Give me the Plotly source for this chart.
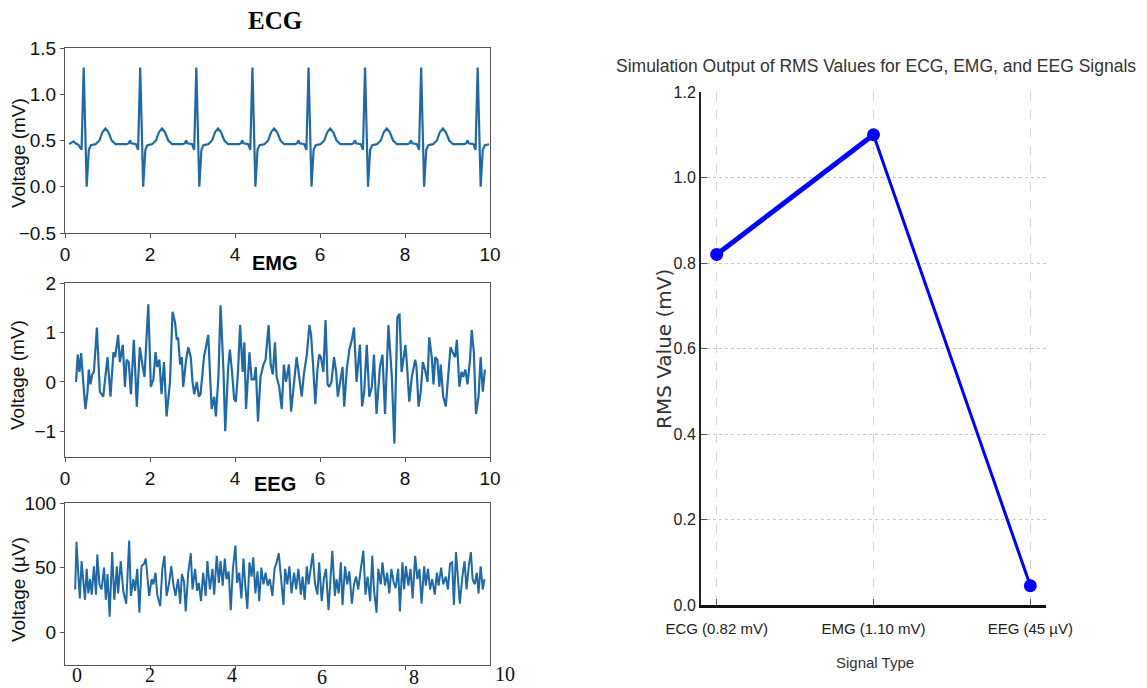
import plotly.graph_objects as go

W, H = 1147, 688

# ---------------- data ----------------
ecg_t = [0.10, 0.14, 0.20, 0.25, 0.32, 0.39, 0.44, 0.51, 0.56, 0.61, 0.72, 0.81, 0.88, 0.95, 1.02, 1.10, 1.19,
         1.45, 1.50, 1.53, 1.56, 1.67, 1.72, 1.77, 1.84, 1.89, 1.94, 2.05, 2.14, 2.21, 2.28, 2.35, 2.43, 2.52,
         2.77, 2.82, 2.85, 2.88, 2.99, 3.04, 3.09, 3.16, 3.21, 3.26, 3.37, 3.46, 3.53, 3.60, 3.67, 3.75, 3.84,
         4.09, 4.14, 4.17, 4.20, 4.31, 4.36, 4.41, 4.48, 4.53, 4.58, 4.69, 4.78, 4.85, 4.92, 4.99, 5.07, 5.16,
         5.41, 5.46, 5.49, 5.52, 5.63, 5.68, 5.73, 5.80, 5.85, 5.90, 6.01, 6.10, 6.17, 6.24, 6.31, 6.39, 6.48,
         6.74, 6.79, 6.82, 6.85, 6.96, 7.01, 7.06, 7.13, 7.18, 7.23, 7.34, 7.43, 7.50, 7.57, 7.64, 7.72, 7.81,
         8.06, 8.11, 8.14, 8.17, 8.28, 8.33, 8.38, 8.45, 8.50, 8.55, 8.66, 8.75, 8.82, 8.89, 8.96, 9.04, 9.13,
         9.39, 9.44, 9.47, 9.50, 9.61, 9.66, 9.71, 9.78, 9.83, 9.88, 9.98]
ecg_v = [0.46, 0.47, 0.49, 0.47, 0.45, 0.40, 1.29, 0.00, 0.40, 0.45, 0.46, 0.50, 0.59, 0.63, 0.59, 0.50, 0.46,
         0.46, 0.47, 0.50, 0.47, 0.46, 0.40, 1.29, 0.00, 0.40, 0.45, 0.46, 0.50, 0.59, 0.63, 0.59, 0.50, 0.46,
         0.46, 0.47, 0.50, 0.47, 0.46, 0.40, 1.29, 0.00, 0.40, 0.45, 0.46, 0.50, 0.59, 0.63, 0.59, 0.50, 0.46,
         0.46, 0.47, 0.50, 0.47, 0.46, 0.40, 1.29, 0.00, 0.40, 0.45, 0.46, 0.50, 0.59, 0.63, 0.59, 0.50, 0.46,
         0.46, 0.47, 0.50, 0.47, 0.46, 0.40, 1.29, 0.00, 0.40, 0.45, 0.46, 0.50, 0.59, 0.63, 0.59, 0.50, 0.46,
         0.46, 0.47, 0.50, 0.47, 0.46, 0.40, 1.29, 0.00, 0.40, 0.45, 0.46, 0.50, 0.59, 0.63, 0.59, 0.50, 0.46,
         0.46, 0.47, 0.50, 0.47, 0.46, 0.40, 1.29, 0.00, 0.40, 0.45, 0.46, 0.50, 0.59, 0.63, 0.59, 0.50, 0.46,
         0.46, 0.47, 0.50, 0.47, 0.46, 0.40, 1.29, 0.00, 0.40, 0.45, 0.46]

emg_t = [0.26, 0.30, 0.34, 0.38, 0.43, 0.48, 0.53, 0.56, 0.60, 0.64,
         0.68, 0.75, 0.82, 0.90, 1.00, 1.07, 1.14, 1.18, 1.25, 1.29,
         1.36, 1.41, 1.45, 1.50, 1.55, 1.62, 1.69, 1.76, 1.83, 1.87,
         1.96, 2.02, 2.08, 2.13, 2.17, 2.22, 2.27, 2.33, 2.39, 2.47,
         2.53, 2.59, 2.63, 2.66, 2.71, 2.75, 2.78, 2.85, 2.90, 2.96,
         3.00, 3.04, 3.10, 3.15, 3.19, 3.27, 3.37, 3.45, 3.51, 3.55,
         3.61, 3.66, 3.73, 3.77, 3.84, 3.88, 3.93, 3.98, 4.02, 4.07,
         4.12, 4.18, 4.22, 4.26, 4.34, 4.39, 4.45, 4.49, 4.54, 4.60,
         4.67, 4.72, 4.79, 4.84, 4.89, 4.94, 4.98, 5.04, 5.10, 5.15,
         5.20, 5.27, 5.32, 5.39, 5.45, 5.51, 5.57, 5.62, 5.69, 5.75,
         5.79, 5.84, 5.89, 5.94, 5.98, 6.02, 6.08, 6.13, 6.18, 6.22,
         6.27, 6.33, 6.38, 6.42, 6.47, 6.53, 6.57, 6.63, 6.69, 6.75,
         6.80, 6.86, 6.94, 6.99, 7.04, 7.10, 7.16, 7.22, 7.27, 7.33,
         7.41, 7.47, 7.53, 7.61, 7.69, 7.75, 7.82, 7.87, 7.92, 7.96,
         8.01, 8.05, 8.10, 8.16, 8.24, 8.27, 8.32, 8.37, 8.42, 8.47,
         8.53, 8.57, 8.63, 8.67, 8.71, 8.76, 8.81, 8.84, 8.90, 8.96,
         9.02, 9.07, 9.12, 9.18, 9.22, 9.28, 9.33, 9.37, 9.42, 9.47,
         9.53, 9.57, 9.62, 9.67, 9.73, 9.78, 9.83, 9.88]
emg_v = [0.0, 0.55, 0.2, 0.58, 0.0, -0.55, -0.2, 0.25, -0.05, 0.15,
         0.2, 1.1, -0.2, -0.3, 0.5, -0.3, 0.6, 0.5, 0.95, 0.4,
         0.75, -0.1, 0.45, 0.4, -0.25, 0.85, -0.5, 0.7, 0.3, 0.1,
         1.57, -0.1, 0.05, 0.6, 0.3, 0.45, -0.25, 0.4, -0.7, 0.0,
         1.42, 1.2, 0.85, 0.9, 0.35, 0.5, -0.1, 0.45, 0.7, 0.5,
         0.0, -0.25, 0.0, -0.3, -0.25, 0.5, 0.95, -0.55, -0.3, -0.7,
         0.1, 1.55, 0.2, -1.0, 0.3, 0.65, 0.2, -0.35, -0.4, 0.2,
         1.15, 0.2, 0.8, -0.55, 0.6, 0.05, 0.05, 0.3, -0.8, 0.1,
         0.35, 0.45, 1.15, 0.35, 0.15, 0.8, 0.1, -0.1, -0.55, 0.35,
         0.0, 0.35, -0.6, 0.0, 0.5, 0.1, -0.3, 0.15, 0.55, 1.15,
         0.95, 0.3, -0.45, 0.25, 0.55, 0.5, 0.2, 1.25, -0.05, -0.1,
         0.0, 0.5, 0.2, -0.3, 0.0, 0.3, -0.5, 0.25, 0.65, 0.85,
         1.1, 0.0, 0.75, -0.5, -0.2, 0.75, -0.3, -0.1, 0.55, -0.65,
         0.3, 0.55, -0.65, 1.15, 0.1, -1.25, 1.3, 1.38, 0.2, 0.5,
         0.75, 0.3, -0.4, 0.1, 0.45, 0.3, -0.5, -0.2, 0.4, 0.25,
         0.0, 0.9, 0.5, -0.05, 0.5, 0.45, -0.1, 0.35, -0.3, -0.5,
         0.25, 0.7, 0.6, 0.5, 0.85, -0.1, 0.2, 0.1, 0.25, -0.05,
         0.45, 1.05, 0.6, -0.65, -0.3, 0.5, -0.2, 0.25]

eeg_t = [0.24, 0.27, 0.32, 0.35, 0.39, 0.43, 0.47, 0.51, 0.55, 0.59,
         0.63, 0.68, 0.73, 0.76, 0.81, 0.86, 0.92, 0.96, 1.00, 1.05,
         1.11, 1.16, 1.22, 1.25, 1.31, 1.37, 1.44, 1.51, 1.55, 1.61,
         1.65, 1.70, 1.75, 1.80, 1.86, 1.90, 1.94, 1.98, 2.04, 2.08,
         2.13, 2.17, 2.24, 2.29, 2.34, 2.39, 2.45, 2.50, 2.55, 2.60,
         2.66, 2.71, 2.75, 2.80, 2.84, 2.90, 2.96, 3.00, 3.06, 3.11,
         3.15, 3.20, 3.25, 3.31, 3.35, 3.41, 3.47, 3.51, 3.57, 3.62,
         3.66, 3.71, 3.76, 3.80, 3.85, 3.90, 3.95, 4.01, 4.05, 4.10,
         4.15, 4.20, 4.24, 4.29, 4.34, 4.39, 4.43, 4.48, 4.53, 4.57,
         4.62, 4.67, 4.72, 4.77, 4.82, 4.88, 4.93, 4.98, 5.03, 5.08,
         5.14, 5.18, 5.23, 5.28, 5.33, 5.39, 5.44, 5.49, 5.55, 5.59,
         5.64, 5.69, 5.73, 5.78, 5.83, 5.88, 5.94, 5.98, 6.04, 6.09,
         6.14, 6.20, 6.25, 6.29, 6.35, 6.39, 6.44, 6.49, 6.53, 6.59,
         6.64, 6.69, 6.75, 6.80, 6.85, 6.90, 6.96, 7.02, 7.07, 7.12,
         7.18, 7.23, 7.27, 7.33, 7.37, 7.43, 7.47, 7.53, 7.58, 7.63,
         7.68, 7.73, 7.78, 7.84, 7.88, 7.94, 7.98, 8.02, 8.08, 8.13,
         8.18, 8.24, 8.29, 8.34, 8.39, 8.45, 8.49, 8.54, 8.59, 8.64,
         8.70, 8.75, 8.79, 8.85, 8.90, 8.96, 9.01, 9.06, 9.11, 9.15,
         9.20, 9.25, 9.29, 9.35, 9.40, 9.45, 9.50, 9.55, 9.59, 9.64,
         9.69, 9.73, 9.78, 9.83, 9.87]
eeg_v = [33, 70, 41, 26, 55, 38, 25, 49, 30, 41,
         29, 51, 29, 60, 37, 33, 50, 25, 45, 12,
         62, 25, 51, 30, 55, 32, 22, 71, 28, 41,
         32, 49, 15, 51, 53, 57, 43, 28, 41, 37,
         46, 29, 20, 49, 59, 28, 38, 51, 37, 28,
         41, 22, 45, 39, 16, 46, 61, 33, 49, 32,
         38, 24, 46, 28, 55, 33, 49, 29, 59, 38,
         55, 36, 57, 41, 47, 17, 49, 67, 38, 46,
         26, 57, 37, 18, 54, 43, 58, 30, 47, 24,
         50, 37, 46, 36, 41, 28, 49, 54, 61, 43,
         21, 49, 37, 51, 30, 46, 33, 49, 29, 43,
         25, 51, 37, 49, 61, 38, 29, 54, 24, 41,
         49, 17, 46, 63, 28, 41, 30, 54, 21, 51,
         37, 47, 22, 37, 43, 33, 49, 63, 29, 43,
         24, 59, 33, 15, 49, 37, 54, 36, 46, 30,
         49, 39, 34, 49, 16, 54, 33, 51, 36, 49,
         26, 59, 41, 49, 22, 51, 36, 49, 33, 41,
         29, 46, 36, 50, 37, 43, 33, 53, 54, 21,
         62, 41, 22, 43, 55, 33, 51, 62, 41, 37,
         46, 30, 51, 33, 41]

signal_labels = ["ECG (0.82 mV)", "EMG (1.10 mV)", "EEG (45 µV)"]
rms_values = [0.82, 1.10, 0.045]

left_x_ticks = [0, 2, 4, 6, 8, 10]
eeg_tick_labels = ["0", "2", "4", "6", "8", "10"]

# ---------------- helpers (layout only) ----------------
OFF = 8  # the page body adds an 8px margin around the figure

def px(x):
    return (x - OFF) / W

def py(y):
    return 1 - (y - OFF) / H

SIG_COLOR = "#1f69a6"
SANS = "Liberation Sans, Arial, sans-serif"
SERIF = "Liberation Serif, Times New Roman, serif"
RSANS = "Liberation Sans, Arial, sans-serif"

fig = go.Figure()
fig.add_trace(go.Scatter(x=ecg_t, y=ecg_v, mode="lines", line=dict(color=SIG_COLOR, width=2.2),
                         xaxis="x", yaxis="y", showlegend=False))
fig.add_trace(go.Scatter(x=emg_t, y=emg_v, mode="lines", line=dict(color=SIG_COLOR, width=2.2),
                         xaxis="x2", yaxis="y2", showlegend=False))
fig.add_trace(go.Scatter(x=eeg_t, y=eeg_v, mode="lines", line=dict(color=SIG_COLOR, width=2),
                         xaxis="x3", yaxis="y3", showlegend=False))
# RMS line: first segment drawn thicker than the second, as in the reference
fig.add_trace(go.Scatter(x=signal_labels[0:2], y=rms_values[0:2], mode="lines",
                         line=dict(color="#0000ff", width=5), xaxis="x4", yaxis="y4", showlegend=False))
fig.add_trace(go.Scatter(x=signal_labels[1:3], y=rms_values[1:3], mode="lines",
                         line=dict(color="#0000ff", width=3), xaxis="x4", yaxis="y4", showlegend=False))
fig.add_trace(go.Scatter(x=signal_labels, y=rms_values, mode="markers",
                         marker=dict(color="#0000ff", size=13), xaxis="x4", yaxis="y4", showlegend=False))

left_xdom = [px(65), px(490)]
box = dict(showline=True, linecolor="#555", linewidth=1, mirror=True, showgrid=False, zeroline=False,
           ticks="outside", ticklen=4, tickcolor="#555", automargin=False,
           tickfont=dict(family=SANS, size=19, color="#111"))
box_nofont = {k: v for k, v in box.items() if k != "tickfont"}

fig.update_layout(
    width=W, height=H, margin=dict(l=0, r=0, t=0, b=0, pad=0, autoexpand=False),
    paper_bgcolor="white", plot_bgcolor="white", showlegend=False,
    xaxis=dict(domain=left_xdom, anchor="y", range=[0, 10], tickvals=left_x_ticks, **box),
    yaxis=dict(domain=[py(233), py(48)], anchor="x", range=[-0.5, 1.5], tickvals=[-0.5, 0, 0.5, 1.0, 1.5],
               tickformat=".1f", **box),
    xaxis2=dict(domain=left_xdom, anchor="y2", range=[0, 10], tickvals=left_x_ticks, **box),
    yaxis2=dict(domain=[py(457), py(283)], anchor="x2", range=[-1.52, 2], tickvals=[-1, 0, 1, 2], **box),
    xaxis3=dict(domain=left_xdom, anchor="y3", range=[0, 10], tickvals=[2, 4, 8], showticklabels=False,
                **box_nofont),
    yaxis3=dict(domain=[py(665), py(503)], anchor="x3", range=[-25.5, 100], tickvals=[0, 50, 100], **box),
    xaxis4=dict(domain=[px(701), px(1046)], anchor="y4", type="category", range=[-0.1, 2.1],
                showline=True, linecolor="#111", linewidth=3, mirror=False, automargin=False,
                showgrid=True, gridcolor="#d4d4d4", griddash="dash", gridwidth=1,
                ticks="inside", ticklen=6, tickcolor="#555", zeroline=False, ticklabelstandoff=8,
                tickfont=dict(family=RSANS, size=15, color="#222")),
    yaxis4=dict(domain=[py(605), py(92)], anchor="x4", range=[0, 1.2], tickvals=[0, 0.2, 0.4, 0.6, 0.8, 1.0, 1.2],
                tickformat=".1f", showline=True, linecolor="#222", linewidth=2, automargin=False,
                showgrid=True, gridcolor="#c8c8c8", griddash="dot", gridwidth=1,
                ticks="inside", ticklen=6, tickcolor="#555", zeroline=False,
                tickfont=dict(family=RSANS, size=16, color="#222")),
)

ann = []
ann.append(dict(text="<b>ECG</b>", x=px(275), y=py(20), font=dict(family=SERIF, size=25, color="#000")))
ann.append(dict(text="<b>EMG</b>", x=px(275), y=py(263), font=dict(family=SANS, size=20, color="#000")))
ann.append(dict(text="<b>EEG</b>", x=px(275), y=py(484), font=dict(family=SANS, size=20, color="#000")))
for txt, yc in [("Voltage (mV)", 153), ("Voltage (mV)", 375), ("Voltage (µV)", 590)]:
    ann.append(dict(text=txt, x=px(18), y=py(yc), textangle=-90, font=dict(family=SANS, size=19, color="#111")))
for txt, xc, yc in zip(eeg_tick_labels, [77, 150, 232, 322, 414, 505], [675, 675, 675, 677, 677, 674]):
    ann.append(dict(text=txt, x=px(xc), y=py(yc), font=dict(family=SERIF, size=20, color="#111")))
ann.append(dict(text="Simulation Output of RMS Values for ECG, EMG, and EEG Signals", x=px(876), y=py(66),
                font=dict(family=RSANS, size=17.5, color="#333")))
ann.append(dict(text="RMS Value (mV)", x=px(664), y=py(349), textangle=-90,
                font=dict(family="DejaVu Sans, sans-serif", size=20, color="#333")))
ann.append(dict(text="Signal Type", x=px(875), y=py(662),
                font=dict(family=RSANS, size=15, color="#333")))
for a in ann:
    a.update(xref="paper", yref="paper", showarrow=False, xanchor="center", yanchor="middle")
fig.update_layout(annotations=ann)

fig.write_html("out.html")
